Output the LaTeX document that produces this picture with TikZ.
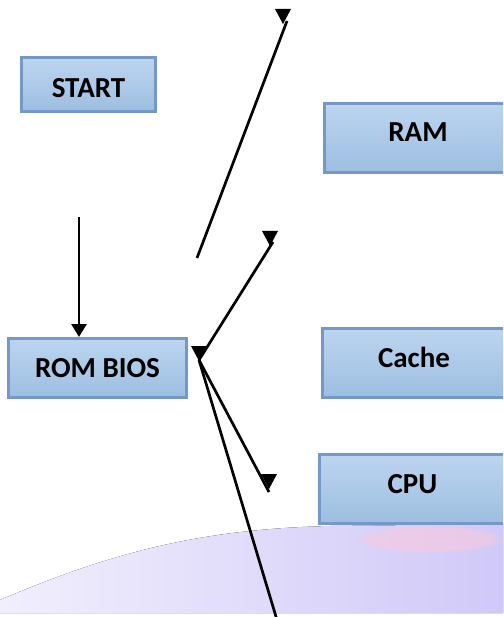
\documentclass[tikz,border=0pt]{standalone}
\usepackage{fontspec}
\setmainfont{Carlito}
\usetikzlibrary{arrows.meta}
\usetikzlibrary{fadings}
\usepackage{xcolor}

\definecolor{boxtop}{RGB}{188,213,239}
\definecolor{boxbot}{RGB}{157,190,225}
\definecolor{boxedge}{RGB}{116,153,199}
\definecolor{band}{RGB}{208,201,248}
\definecolor{bandpink}{RGB}{250,200,222}
\newcommand{\tritip}[1]{\fill (#1) -- ++(-8,-15) -- ++(16,0) -- cycle;}

\begin{document}
\begin{tikzpicture}[x=1pt,y=-1pt,
  unit/.style={draw=boxedge, line width=3pt, top color=boxtop, bottom color=boxbot,
    inner sep=0pt, font=\fontsize{29}{31}\selectfont\bfseries,
    text height=18pt, text depth=0pt},
  link/.style={line width=2.7pt}]
\useasboundingbox (0,0) rectangle (503,617);
\clip (0,0) rectangle (503,617);

%the faded band at the bottom
\fill[left color=band!30!white, right color=band] (0,613) -- (0,600)
  .. controls (110,553) and (200,529) .. (330,526) -- (503,524) -- (503,613) -- cycle;
\fill[bandpink, path fading=circle with fuzzy edge 20 percent, opacity=0.6]
  (430,539) ellipse [x radius=75, y radius=14];

\node[unit, minimum width=134pt, minimum height=54pt, text height=27pt] (start) at (88.5,84.5) {START};
\node[unit, minimum width=187pt, minimum height=69pt, text depth=10pt] (ram) at (418,138) {RAM};
\node[unit, minimum width=178pt, minimum height=59pt] (rom) at (97.5,368) {ROM BIOS};
\node[unit, minimum width=183pt, minimum height=69pt, text depth=10pt] (cache) at (414,363) {Cache};
\node[unit, minimum width=186pt, minimum height=69pt, text depth=10pt] (cpu) at (412.5,489) {CPU};

\coordinate (s1) at (79,217);
\coordinate (hub) at (199,360);
\coordinate (a1) at (197,258);
\coordinate (a2) at (287,21);
\coordinate (b2) at (273,242);
\coordinate (c2) at (269,492);
\coordinate (d2) at (277,620);

\draw[link, -{Triangle[width=15pt,length=13pt]}] (s1) -- (s1 |- rom.north);
\draw[link] (a1) -- (a2);
\draw[link] (hub) -- (b2);
\draw[link] (hub) -- (c2);
\draw[link] (hub) -- (d2);

%the loose tips
\tritip{283,24}
\tritip{270,246}
\tritip{199,361}
\tritip{269,489}
\end{tikzpicture}
\end{document}
